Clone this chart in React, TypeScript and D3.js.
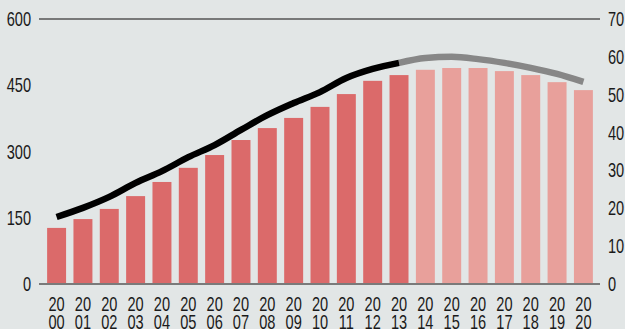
import React from "react";
import * as d3 from "d3";

const years = ["2000","2001","2002","2003","2004","2005","2006","2007","2008","2009","2010","2011","2012","2013","2014","2015","2016","2017","2018","2019","2020"];
const barValues = [127,147,170,199,231,263,292,326,353,376,401,430,460,473,485,489,489,482,473,457,439];
const lineValues = [17.7,20.1,23.0,26.7,29.8,33.5,36.7,40.7,44.6,47.8,50.7,54.4,56.8,58.4,59.7,60.0,59.4,58.4,57.1,55.5,53.4];
const projectedFrom = 14; // index of first projected year
const leftTicks = [0,150,300,450,600];
const rightTicks = [0,10,20,30,40,50,60,70];

const W = 625, H = 329;
const FONT = "'Liberation Sans', Arial, sans-serif";
const SX = 0.73;

function T({ x, y, anchor, children }: { x: number; y: number; anchor: string; children: React.ReactNode }) {
  return (
    <text transform={`translate(${x},${y}) scale(${SX},1)`} textAnchor={anchor} fontFamily={FONT} fontSize={20} fill="#1a1a1a">
      {children}
    </text>
  );
}

export default function App() {
  const x = d3.scaleBand<string>().domain(years).range([40, 600]).paddingInner(0.28).paddingOuter(0.27);
  const yL = d3.scaleLinear().domain([0, 600]).range([284, 19]);
  const yR = d3.scaleLinear().domain([0, 70]).range([284, 19]);
  const cx = (i: number) => (x(years[i]) as number) + x.bandwidth() / 2;
  const pts = lineValues.map((v, i) => [cx(i), yR(v)] as [number, number]);
  const lg = d3.line<[number, number]>().x(d => d[0]).y(d => d[1]).curve(d3.curveMonotoneX);
  const solid = pts.slice(0, projectedFrom);
  const proj = pts.slice(projectedFrom - 1);
  return (
    <div style={{ position: "fixed", left: 0, top: 0 }}>
      <svg width={W} height={H} style={{ display: "block", background: "#e2e6e6" }}>
        <line x1={39} x2={600} y1={yL(600)} y2={yL(600)} stroke="#555" strokeWidth={1.5} />
        {years.map((y, i) => (
          <rect key={y} x={x(y)} width={x.bandwidth()} y={yL(barValues[i])} height={yL(0) - yL(barValues[i])}
            fill={i < projectedFrom ? "#db6a6a" : "#e8a09b"} />
        ))}
        <line x1={39} x2={600} y1={yL(0)} y2={yL(0)} stroke="#7a7a7a" strokeWidth={2} />
        <path d={lg(proj) || ""} fill="none" stroke="#878787" strokeWidth={6.5} />
        <path d={lg(solid) || ""} fill="none" stroke="#000" strokeWidth={6.5} />
        {leftTicks.map(t => (
          <T key={t} x={31} y={yL(t) + 7} anchor="end">{t}</T>
        ))}
        {rightTicks.map(t => (
          <T key={t} x={608} y={yR(t) + 7} anchor="start">{t}</T>
        ))}
        {years.map((y, i) => (
          <g key={y}>
            <T x={cx(i)} y={311} anchor="middle">{y.slice(0, 2)}</T>
            <T x={cx(i)} y={329} anchor="middle">{y.slice(2)}</T>
          </g>
        ))}
      </svg>
    </div>
  );
}
